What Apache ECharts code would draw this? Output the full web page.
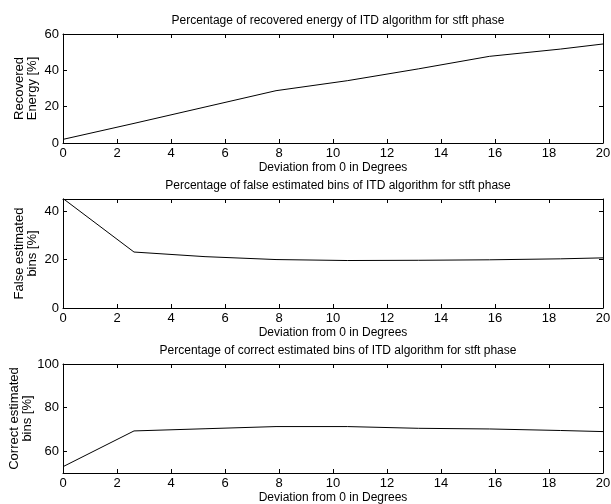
<!DOCTYPE html>
<html>
<head>
<meta charset="utf-8">
<script src="https://cdn.jsdelivr.net/npm/echarts@6/dist/echarts.min.js"></script>
<style>html,body{margin:0;padding:0;background:#fff}#c{width:611px;height:504px}</style>
</head>
<body>
<div id="c"></div>
<script>
var deviation = [0, 2.63, 5.26, 7.89, 10.53, 13.16, 15.79, 18.42, 20];
var recoveredEnergy = [2.0, 10.8, 19.8, 28.8, 34.3, 40.8, 47.7, 51.7, 54.5];
var falseBins = [45.2, 23.1, 21.2, 20.0, 19.6, 19.7, 19.9, 20.3, 20.7];
var correctBins = [52.9, 69.3, 70.3, 71.3, 71.3, 70.5, 70.2, 69.5, 69.0];
var titles = [
  'Percentage of recovered energy of ITD algorithm for stft phase',
  'Percentage of false estimated bins of ITD algorithm for stft phase',
  'Percentage of correct estimated bins of ITD algorithm for stft phase'
];
var yNames = ['Recovered\nEnergy [%]', 'False estimated\nbins [%]', 'Correct estimated\nbins [%]'];
var xName = 'Deviation from 0 in Degrees';
var xTicks = [0, 2, 4, 6, 8, 10, 12, 14, 16, 18, 20];
var yRanges = [[0, 60], [0, 45], [50, 100]];
var yTicks = [[0, 20, 40, 60], [0, 20, 40], [60, 80, 100]];

var FONT = '"Liberation Sans", Arial, Helvetica, sans-serif';
var tops = [34, 199, 364];
var nameGaps = [24, 24, 29];
var H = 109;
var series = [recoveredEnergy, falseBins, correctBins];

function pairs(xs, ys) { return xs.map(function (x, i) { return [x, ys[i]]; }); }
function tk(vals) {
  return { show: true, inside: true, length: 4, customValues: vals, lineStyle: { color: '#000', width: 1 } };
}

var grid = [], xAxis = [], yAxis = [], ser = [], title = [];
for (var i = 0; i < 3; i++) {
  grid.push({ left: 63, right: 8, top: tops[i], height: H, containLabel: false, outerBoundsMode: 'none' });
  var axLine = { show: true, onZero: false, lineStyle: { color: '#000', width: 1 } };
  xAxis.push({
    type: 'value', gridIndex: i, min: 0, max: 20, position: 'bottom',
    axisLine: axLine, axisTick: tk(xTicks), splitLine: { show: false },
    axisLabel: { color: '#000', fontSize: 13, fontFamily: FONT, margin: 4, customValues: xTicks },
    name: xName, nameLocation: 'middle', nameGap: 19, nameMoveOverlap: false,
    nameTextStyle: { color: '#000', fontSize: 12, fontFamily: FONT }
  });
  xAxis.push({
    type: 'value', gridIndex: i, min: 0, max: 20, position: 'top',
    axisLine: axLine, axisTick: tk(xTicks), splitLine: { show: false }, axisLabel: { show: false }
  });
  var r = yRanges[i];
  yAxis.push({
    type: 'value', gridIndex: i, min: r[0], max: r[1], position: 'left',
    axisLine: axLine, axisTick: tk(yTicks[i]), splitLine: { show: false },
    axisLabel: { color: '#000', fontSize: 13, fontFamily: FONT, margin: 4, customValues: yTicks[i] },
    name: yNames[i], nameLocation: 'middle', nameGap: nameGaps[i], nameRotate: 90, nameMoveOverlap: false,
    nameTextStyle: { color: '#000', fontSize: 13, fontFamily: FONT, lineHeight: 13 }
  });
  yAxis.push({
    type: 'value', gridIndex: i, min: r[0], max: r[1], position: 'right',
    axisLine: axLine, axisTick: tk(yTicks[i]), splitLine: { show: false }, axisLabel: { show: false }
  });
  ser.push({
    type: 'line', xAxisIndex: i * 2, yAxisIndex: i * 2, data: pairs(deviation, series[i]),
    showSymbol: false, symbol: 'none', lineStyle: { color: '#000', width: 1 }, clip: true,
    animation: false
  });
  title.push({
    text: titles[i], left: 333, textAlign: 'center', top: tops[i] - 24,
    textStyle: { color: '#000', fontSize: 12, fontWeight: 'normal', fontFamily: FONT }
  });
}

var chart = echarts.init(document.getElementById('c'), null, { renderer: 'canvas' });
chart.setOption({
  backgroundColor: '#fff', animation: false,
  title: title, grid: grid, xAxis: xAxis, yAxis: yAxis, series: ser
});
</script>
</body>
</html>
